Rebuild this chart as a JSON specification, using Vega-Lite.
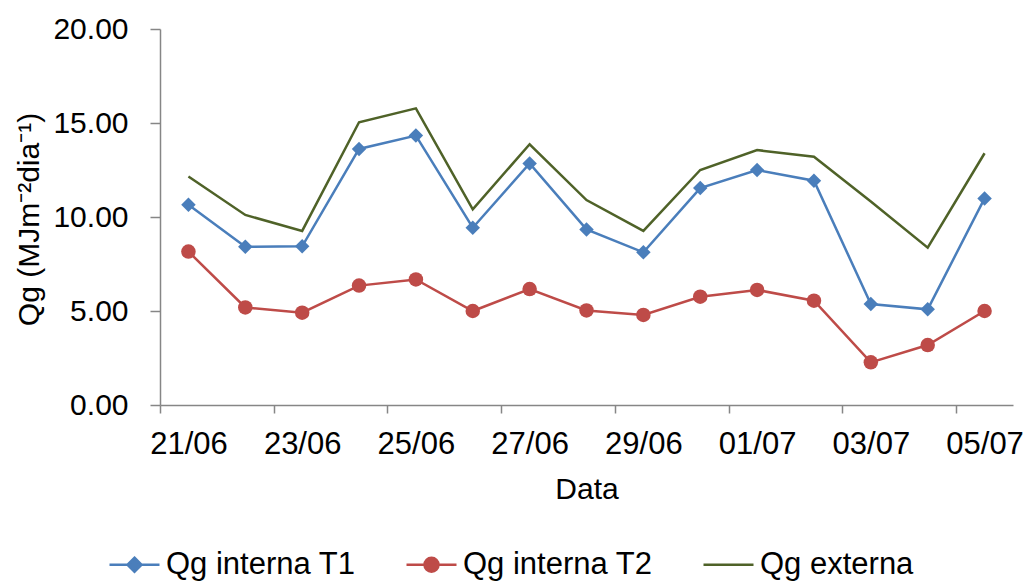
{
  "$schema": "https://vega.github.io/schema/vega-lite/v6.json",
  "width": 853,
  "height": 376,
  "autosize": "none",
  "padding": {"left": 160, "top": 29, "right": 15, "bottom": 176},
  "background": "white",
  "config": {
    "view": {"stroke": null},
    "font": "Liberation Sans",
    "axis": {"domainColor": "#868686", "tickColor": "#868686", "labelColor": "black", "titleColor": "black", "labelFont": "Liberation Sans", "titleFont": "Liberation Sans", "titleFontWeight": "normal", "grid": false, "labelFontSize": 30, "titleFontSize": 30, "domainWidth": 1.5, "tickWidth": 1.5}
  },
  "data": {
    "values": [
      {"data": "21/06", "serie": "Qg interna T1", "qg": 10.65},
      {"data": "22/06", "serie": "Qg interna T1", "qg": 8.42},
      {"data": "23/06", "serie": "Qg interna T1", "qg": 8.44},
      {"data": "24/06", "serie": "Qg interna T1", "qg": 13.62},
      {"data": "25/06", "serie": "Qg interna T1", "qg": 14.33},
      {"data": "26/06", "serie": "Qg interna T1", "qg": 9.43},
      {"data": "27/06", "serie": "Qg interna T1", "qg": 12.85},
      {"data": "28/06", "serie": "Qg interna T1", "qg": 9.34},
      {"data": "29/06", "serie": "Qg interna T1", "qg": 8.12},
      {"data": "30/06", "serie": "Qg interna T1", "qg": 11.54},
      {"data": "01/07", "serie": "Qg interna T1", "qg": 12.5},
      {"data": "02/07", "serie": "Qg interna T1", "qg": 11.93},
      {"data": "03/07", "serie": "Qg interna T1", "qg": 5.37},
      {"data": "04/07", "serie": "Qg interna T1", "qg": 5.09},
      {"data": "05/07", "serie": "Qg interna T1", "qg": 10.99},
      {"data": "21/06", "serie": "Qg interna T2", "qg": 8.16},
      {"data": "22/06", "serie": "Qg interna T2", "qg": 5.19},
      {"data": "23/06", "serie": "Qg interna T2", "qg": 4.91},
      {"data": "24/06", "serie": "Qg interna T2", "qg": 6.35},
      {"data": "25/06", "serie": "Qg interna T2", "qg": 6.68},
      {"data": "26/06", "serie": "Qg interna T2", "qg": 5.0},
      {"data": "27/06", "serie": "Qg interna T2", "qg": 6.17},
      {"data": "28/06", "serie": "Qg interna T2", "qg": 5.03},
      {"data": "29/06", "serie": "Qg interna T2", "qg": 4.79},
      {"data": "30/06", "serie": "Qg interna T2", "qg": 5.76},
      {"data": "01/07", "serie": "Qg interna T2", "qg": 6.12},
      {"data": "02/07", "serie": "Qg interna T2", "qg": 5.55},
      {"data": "03/07", "serie": "Qg interna T2", "qg": 2.27},
      {"data": "04/07", "serie": "Qg interna T2", "qg": 3.19},
      {"data": "05/07", "serie": "Qg interna T2", "qg": 5.0},
      {"data": "21/06", "serie": "Qg externa", "qg": 12.15},
      {"data": "22/06", "serie": "Qg externa", "qg": 10.11},
      {"data": "23/06", "serie": "Qg externa", "qg": 9.26},
      {"data": "24/06", "serie": "Qg externa", "qg": 15.04},
      {"data": "25/06", "serie": "Qg externa", "qg": 15.78},
      {"data": "26/06", "serie": "Qg externa", "qg": 10.41},
      {"data": "27/06", "serie": "Qg externa", "qg": 13.87},
      {"data": "28/06", "serie": "Qg externa", "qg": 10.9},
      {"data": "29/06", "serie": "Qg externa", "qg": 9.26},
      {"data": "30/06", "serie": "Qg externa", "qg": 12.5},
      {"data": "01/07", "serie": "Qg externa", "qg": 13.56},
      {"data": "02/07", "serie": "Qg externa", "qg": 13.21},
      {"data": "03/07", "serie": "Qg externa", "qg": 10.82},
      {"data": "04/07", "serie": "Qg externa", "qg": 8.37},
      {"data": "05/07", "serie": "Qg externa", "qg": 13.39}
    ]
  },
  "encoding": {
    "x": {
      "field": "data",
      "type": "ordinal",
      "sort": null,
      "scale": {"type": "point", "padding": 0.5},
      "axis": {
        "title": "Data",
        "values": ["21/06", "23/06", "25/06", "27/06", "29/06", "01/07", "03/07", "05/07"],
        "labelAngle": 0,
        "labelFontSize": 31,
        "tickSize": 8,
        "tickOffset": -28.43,
        "labelOffset": 28.43,
        "labelPadding": 16,
        "titleBaseline": "alphabetic",
        "titleY": 93
      }
    },
    "y": {
      "field": "qg",
      "type": "quantitative",
      "scale": {"domain": [0, 20], "nice": false, "zero": true},
      "axis": {
        "title": "Qg (MJm⁻²dia⁻¹)",
        "values": [0, 5, 10, 15, 20],
        "format": ".2f",
        "tickSize": 10,
        "labelPadding": 22,
        "titleBaseline": "middle",
        "titleX": -131,
        "titleY": 190
      }
    },
    "color": {
      "field": "serie",
      "type": "nominal",
      "scale": {
        "domain": ["Qg interna T1", "Qg interna T2", "Qg externa"],
        "range": ["#4A7EBB", "#BE4B48", "#4F6228"]
      }
    }
  },
  "layer": [
    {
      "mark": {"type": "line", "strokeWidth": 2.5},
      "encoding": {
        "color": {
          "field": "serie",
          "type": "nominal",
          "legend": {
            "orient": "none",
            "legendX": -52,
            "legendY": 509,
            "direction": "horizontal",
            "title": null,
            "symbolSize": 2500,
            "symbolStrokeWidth": 2.5,
            "labelFontSize": 31,
            "labelFont": "Liberation Sans",
            "labelColor": "black",
            "labelLimit": 500,
            "labelOffset": 5,
            "columnPadding": 45,
            "encode": {
              "symbols": {
                "update": {
                  "shape": {"signal": "datum.value === 'Qg interna T1' ? 'M-1,0L1,0M0,-0.28L0.28,0L0,0.28L-0.28,0Z' : datum.value === 'Qg interna T2' ? 'M-1,0L1,0M-0.28,0A0.28,0.28,0,1,1,0.28,0A0.28,0.28,0,1,1,-0.28,0Z' : 'M-1,0L1,0'"},
                  "fill": {"signal": "datum.value === 'Qg externa' ? 'transparent' : scale('color', datum.value)"},
                  "stroke": {"signal": "scale('color', datum.value)"},
                  "opacity": {"value": 1}
                }
              }
            }
          }
        }
      }
    },
    {
      "transform": [{"filter": "datum.serie !== 'Qg externa'"}],
      "mark": {"type": "point", "filled": true, "opacity": 1, "size": 210},
      "encoding": {
        "shape": {
          "field": "serie",
          "type": "nominal",
          "scale": {"domain": ["Qg interna T1", "Qg interna T2"], "range": ["diamond", "circle"]},
          "legend": null
        }
      }
    }
  ]
}
